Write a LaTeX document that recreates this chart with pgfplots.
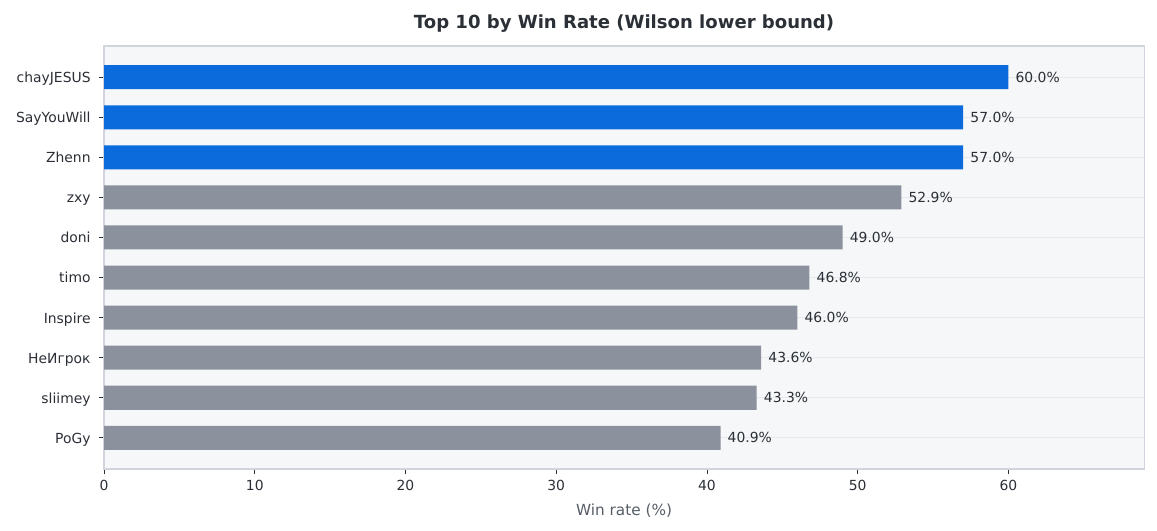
\documentclass[border=0pt]{standalone}
\usepackage{pgfplots}
\pgfplotsset{compat=1.18}
\usepackage{fontspec}
\setmainfont{DejaVu Sans}
\definecolor{barblue}{HTML}{0B6BDC}
\definecolor{bargray}{HTML}{8B929D}
\definecolor{axbg}{HTML}{F6F7F9}
\definecolor{frame}{HTML}{D0D5DD}
\definecolor{gridc}{HTML}{E6E9EE}
\definecolor{txt}{HTML}{2B2F36}
\definecolor{lbl}{HTML}{565D67}
\begin{document}
\begin{tikzpicture}
\path[use as bounding box] (-74.9pt,-44.6pt) rectangle (758.1pt,337.7pt);
\begin{axis}[
  at={(0pt,0pt)}, anchor=south west,
  scale only axis, width=748.8pt, height=304.6pt,
  xmin=0, xmax=69, ymin=-0.78, ymax=9.78,
  clip=false,
  ytick={0,...,9},
  yticklabels={PoGy,sliimey,НеИгрок,Inspire,timo,doni,zxy,Zhenn,SayYouWill,chayJESUS},
  xtick={0,10,...,60},
  xtick pos=lower, ytick pos=left, tick align=outside,
  major tick length=3.5pt,
  ytick style={draw=txt, line width=0.6pt},
  xtick style={draw=txt, line width=0.6pt},
  ymajorgrids,
  axis background/.style={fill=axbg},
  axis line style={draw=frame, line width=0.8pt},
  major grid style={draw=gridc, line width=0.7pt},
  tick label style={font=\fontsize{10}{12}\selectfont, text=txt},
  yticklabel style={anchor=east, text height=10pt, text depth=2.2pt, inner sep=0pt, xshift=-6pt},
  xticklabel style={yshift=-1pt},
  /pgf/number format/assume math mode=true,
  title={Top 10 by Win Rate (Wilson lower bound)},
  title style={at={(0.5,1)}, anchor=center, yshift=10pt, font=\bfseries\fontsize{13}{15}\selectfont, text=txt},
  xlabel={Win rate (\%)},
  xlabel style={at={(axis description cs:0.5,0)}, anchor=center, yshift=-30.2pt, font=\fontsize{11}{13}\selectfont, text=lbl},
  nodes near coords={\pgfmathprintnumber[fixed,precision=1,fixed zerofill]{\pgfplotspointmeta}\%},
  nodes near coords style={anchor=west, inner sep=0pt, xshift=5pt, font=\fontsize{10}{12}\selectfont, text=txt},
  point meta=x,
]
\addplot[xbar, bar shift=0pt, bar width=0.6, fill=barblue, draw=none] coordinates {(60.0,9) (57.0,8) (57.0,7)};
\addplot[xbar, bar shift=0pt, bar width=0.6, fill=bargray, draw=none] coordinates {(52.9,6) (49.0,5) (46.8,4) (46.0,3) (43.6,2) (43.3,1) (40.9,0)};
\pgfplotsinvokeforeach{0,...,9}{\draw[txt, line width=0.6pt] ([xshift=-0.4pt]axis cs:0,#1) -- ([xshift=-3.9pt]axis cs:0,#1);}
\end{axis}
\end{tikzpicture}
\end{document}
